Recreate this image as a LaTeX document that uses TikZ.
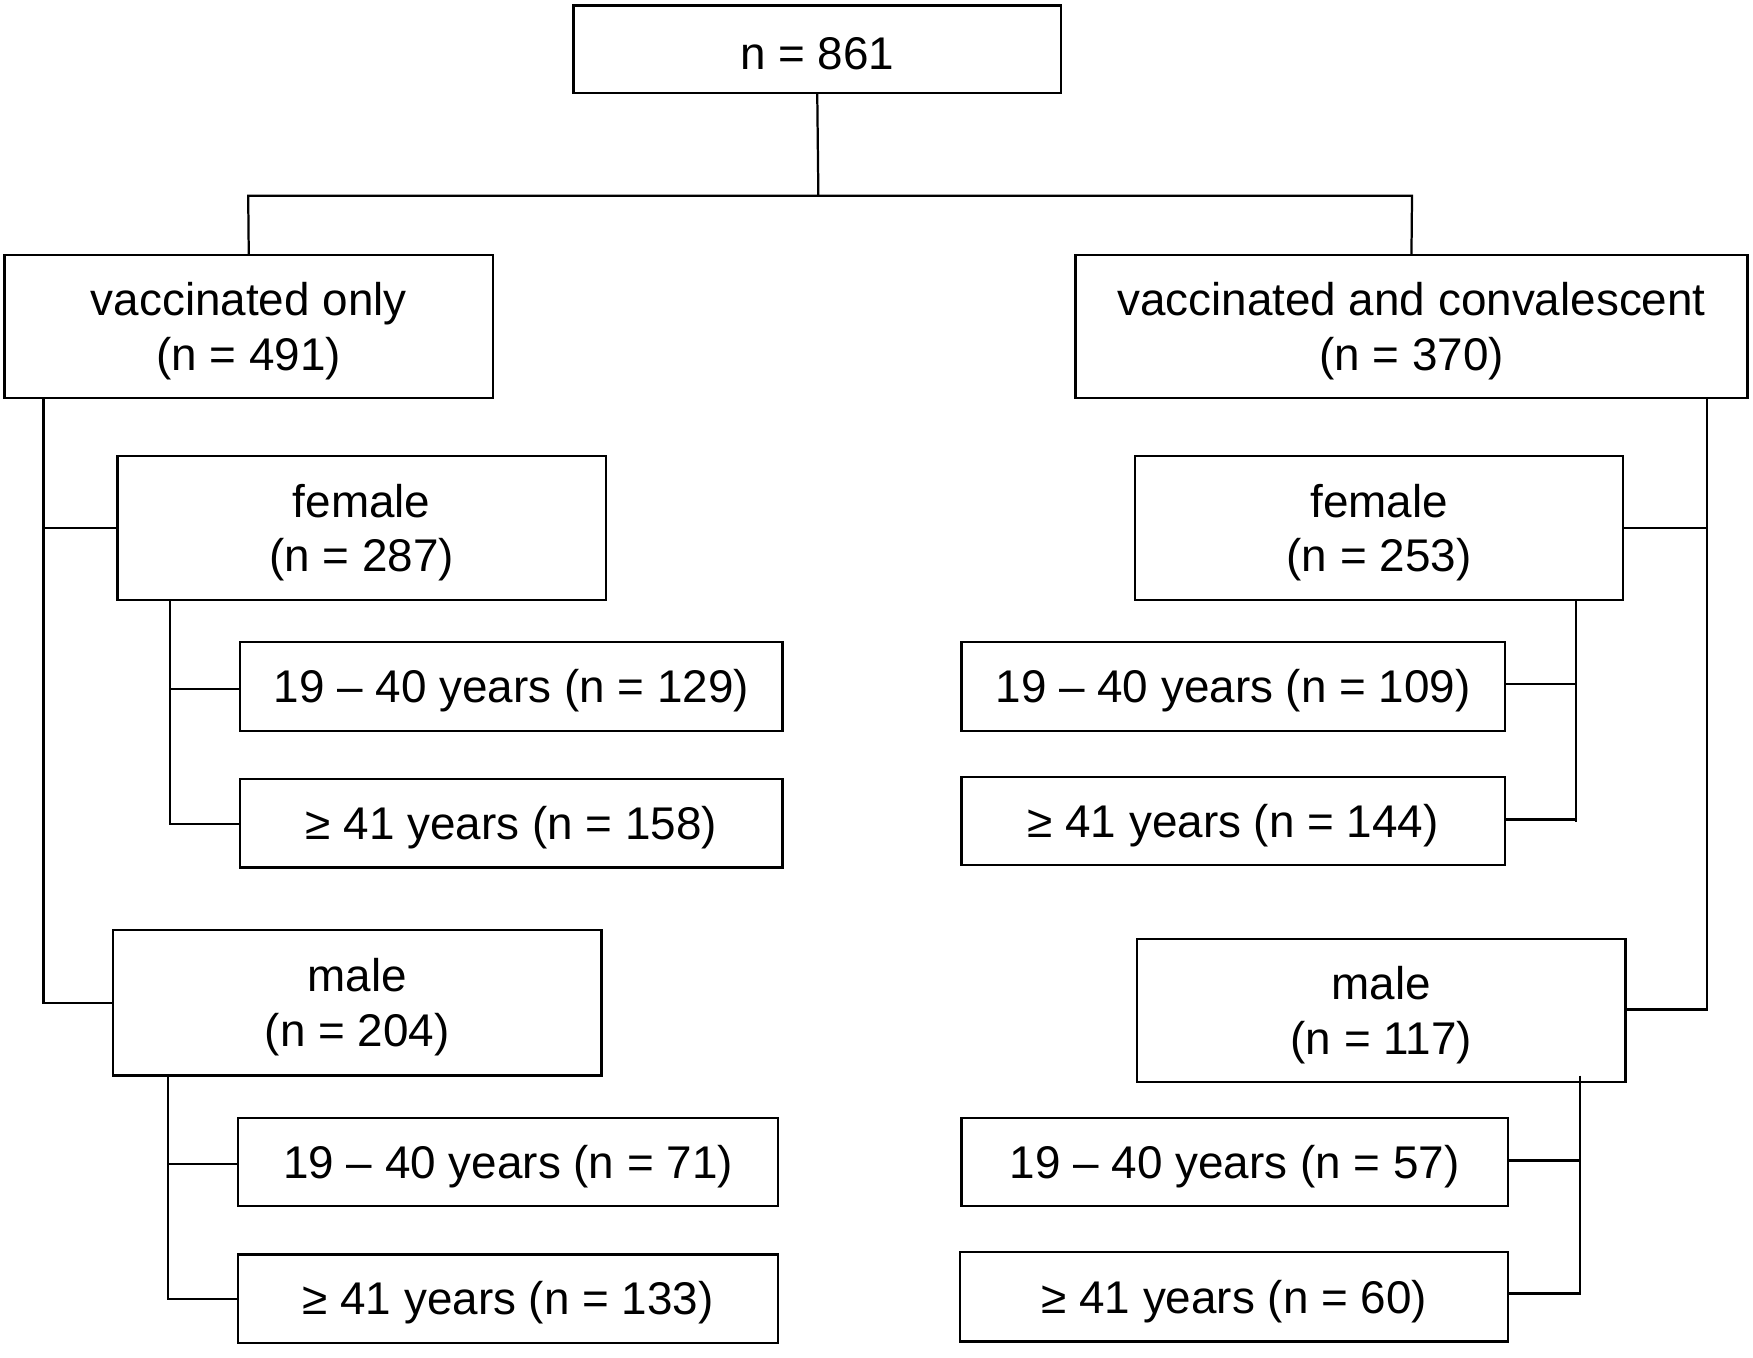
\documentclass[tikz,border=0pt]{standalone}
\usepackage{fontspec}
\setmainfont{Liberation Sans}
\begin{document}
\begin{tikzpicture}[x=1pt,y=-1pt,line width=2pt,
  bx/.style={draw,inner sep=0pt},
  tx/.style={inner sep=0pt,align=center,font=\fontsize{41}{49}\selectfont}]
\useasboundingbox (0,0) rectangle (1568,1214);
\newcommand\bxn[6]{\node[bx,minimum width=#4-#2,minimum height=#5-#3] (#1) at ({(#2+#4)/2},{(#3+#5)/2}) {};
  \node[tx] (#1t) at ({(#2+#4)/2},{(#3+#5)/2+4}) {#6};}
\bxn{top}{513}{5}{949}{83}{n = 861}
\bxn{vo}{4}{228}{441}{356}{vaccinated only\\(n = 491)}
\bxn{vc}{962}{228}{1563}{356}{vaccinated and convalescent\\(n = 370)}
\bxn{fl}{105}{408}{542}{537}{female\\(n = 287)}
\bxn{fla}{215}{574}{700}{654}{19 -- 40 years (n = 129)}
\bxn{flb}{215}{697}{700}{776}{≥ 41 years (n = 158)}
\bxn{ml}{101}{832}{538}{962}{male\\(n = 204)}
\bxn{mla}{213}{1000}{696}{1079}{19 -- 40 years (n = 71)}
\bxn{mlb}{213}{1122}{696}{1201}{≥ 41 years (n = 133)}
\bxn{fr}{1015}{408}{1452}{537}{female\\(n = 253)}
\bxn{fra}{860}{574}{1346}{654}{19 -- 40 years (n = 109)}
\bxn{frb}{860}{695}{1346}{774}{≥ 41 years (n = 144)}
\bxn{mr}{1017}{840}{1454}{968}{male\\(n = 117)}
\bxn{mra}{860}{1000}{1349}{1079}{19 -- 40 years (n = 57)}
\bxn{mrb}{859}{1120}{1349}{1200}{≥ 41 years (n = 60)}
\coordinate (j) at (732,175);
\draw (top.south) -- (j);
\draw (vo.north) -- (222,175) -- (1263,175) -- (vc.north);
\draw (39,356) -- (39,897) -- (ml.west |- 0,897);
\draw (39,472) -- (fl.west |- 0,472);
\draw (152,537) -- (152,737) -- (flb.west |- 0,737);
\draw (152,616) -- (fla.west |- 0,616);
\draw (150,962) -- (150,1162) -- (mlb.west |- 0,1162);
\draw (150,1041) -- (mla.west |- 0,1041);
\draw (1527,356) -- (1527,903) -- (mr.east |- 0,903);
\draw (1527,472) -- (fr.east |- 0,472);
\draw (1410,537) -- (1410,735);
\draw (1410,612) -- (fra.east |- 0,612);
\draw (1410,733) -- (frb.east |- 0,733);
\draw (1413,962) -- (1413,1157) -- (mrb.east |- 0,1157);
\draw (1413,1038) -- (mra.east |- 0,1038);
\end{tikzpicture}
\end{document}
